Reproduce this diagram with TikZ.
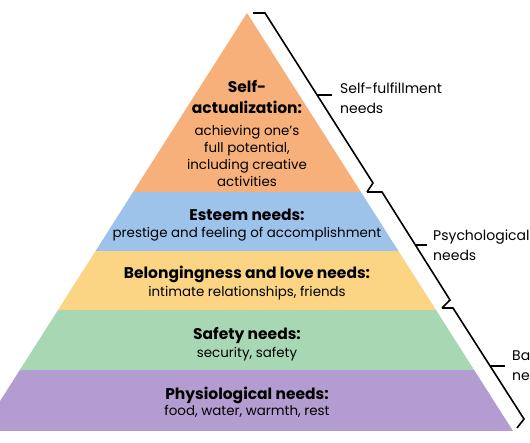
\documentclass[tikz,border=0pt]{standalone}
\usepackage{fontspec}
\setmainfont{Poppins}
\definecolor{cOrange}{HTML}{F8B07A}
\definecolor{cBlue}{HTML}{9DC3EA}
\definecolor{cYellow}{HTML}{FCD584}
\definecolor{cGreen}{HTML}{A7D8B3}
\definecolor{cPurple}{HTML}{B39CD0}
\tikzset{
  title/.style={font=\bfseries\fontsize{15.5}{17}\selectfont, anchor=base, inner sep=0pt},
  desc/.style={font=\fontsize{13.4}{15}\selectfont, anchor=base, inner sep=0pt},
  side/.style={font=\fontsize{14}{16}\selectfont, anchor=base west, inner sep=0pt},
  bracket/.style={draw=black, line width=1.6pt, line join=miter},
}
\begin{document}
\begin{tikzpicture}[x=1pt,y=-1pt]
\useasboundingbox (0,0) rectangle (530,442);
\clip (0,0) rectangle (530,442);
\fill[white] (0,0) rectangle (530,442);
\begin{scope}
  \clip (247,13) -- (-19,431) -- (513,431) -- cycle;
  \fill[cOrange] (-30,0) rectangle (560,192);
  \fill[cBlue] (-30,192) rectangle (560,251);
  \fill[cYellow] (-30,251) rectangle (560,310);
  \fill[cGreen] (-30,310) rectangle (560,370);
  \fill[cPurple] (-30,370) rectangle (560,431);
\end{scope}
% level texts
\node[title] (sa1) at (247,92) {Self-};
\node[title] (sa2) at (247,113) {actualization:};
\node[desc] (sa3) at (247,135) {achieving one’s};
\node[desc] (sa4) at (247,152) {full potential,};
\node[desc] (sa5) at (247,169) {including creative};
\node[desc] (sa6) at (247,186) {activities};
\node[title] (es1) at (247,220) {Esteem needs:};
\node[desc] (es2) at (247,237) {prestige and feeling of accomplishment};
\node[title] (bl1) at (247,278) {Belongingness and love needs:};
\node[desc] (bl2) at (247,296) {intimate relationships, friends};
\node[title] (sf1) at (247,339) {Safety needs:};
\node[desc] (sf2) at (247,357) {security, safety};
\node[title] (ph1) at (247,399) {Physiological needs:};
\node[desc] (ph2) at (247,415) {food, water, warmth, rest};
% brackets
\coordinate (b1s) at (253,13);
\coordinate (b1a) at (265,13);
\coordinate (b1b) at (373,183);
\coordinate (b1e) at (367,192);
\coordinate (b1t) at (317.1,95);
\coordinate (b1u) at (332,95);
\coordinate (b2a) at (382,192);
\coordinate (b2b) at (450,300);
\coordinate (b2e) at (442,308);
\coordinate (b2t) at (415.4,245);
\coordinate (b2u) at (427,245);
\coordinate (b3a) at (453,308);
\coordinate (b3b) at (524,419);
\coordinate (b3e) at (517,428);
\coordinate (b3t) at (490,366);
\coordinate (b3u) at (505,366);
\draw[bracket] (b1s) -- (b1a) -- (b1b) -- (b1e);
\draw[bracket] (b1t) -- (b1u);
\draw[bracket] (b1e) -- (b2a) -- (b2b) -- (b2e);
\draw[bracket] (b2t) -- (b2u);
\draw[bracket] (b2e) -- (b3a) -- (b3b) -- (b3e);
\draw[bracket] (b3t) -- (b3u);
% side labels
\node[side] (l1a) at (340,93) {Self-fulfillment};
\node[side] (l1b) at (340,113) {needs};
\node[side] (l2a) at (433,240) {Psychological};
\node[side] (l2b) at (433,260) {needs};
\node[side] (l3a) at (512,360) {Basic};
\node[side] (l3b) at (512,380) {needs};
\end{tikzpicture}
\end{document}
